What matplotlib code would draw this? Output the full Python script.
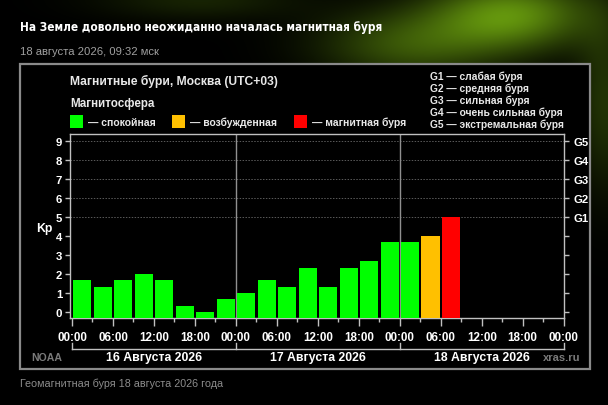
import numpy as np
import matplotlib
matplotlib.use('Agg')
import matplotlib.pyplot as plt
import matplotlib.font_manager as fm
import matplotlib.transforms as mtransforms
from matplotlib.patches import Rectangle

# -------------------------
# DATA
# -------------------------
kp = [1.67, 1.33, 1.67, 2.0, 1.67, 0.33, 0.0, 0.67,
      1.0, 1.67, 1.33, 2.33, 1.33, 2.33, 2.67, 3.67,
      3.67, 4.0, 5.0]
step_hours = 3
days = ['16 Августа 2026', '17 Августа 2026', '18 Августа 2026']
hour_ticks = [0, 6, 12, 18, 24, 30, 36, 42, 48, 54, 60, 66, 72]
hour_labels = ['00:00', '06:00', '12:00', '18:00'] * 3 + ['00:00']
kp_ticks = [0, 1, 2, 3, 4, 5, 6, 7, 8, 9]
g_levels = [5, 6, 7, 8, 9]
g_labels = ['G1', 'G2', 'G3', 'G4', 'G5']
g_desc = ['слабая буря', 'средняя буря', 'сильная буря',
          'очень сильная буря', 'экстремальная буря']
state_names = ['спокойная', 'возбужденная', 'магнитная буря']
state_colors = ['#00ff00', '#ffc000', '#ff0000']

title = 'На Земле довольно неожиданно началась магнитная буря'
subtitle = '18 августа 2026, 09:32 мск'
caption = 'Геомагнитная буря 18 августа 2026 года'

# -------------------------
# FONTS
# -------------------------
names = {f.name for f in fm.fontManager.ttflist}
base = 'Liberation Sans' if 'Liberation Sans' in names else 'DejaVu Sans'
plt.rcParams['font.family'] = [base, 'DejaVu Sans']

# look for a condensed bold face for the headline
title_prop = fm.FontProperties(family=base, weight='bold')
for f in fm.fontManager.ttflist:
    st = str(f.stretch).lower()
    if (('condensed' in st or 'narrow' in f.name.lower()
         or 'condensed' in f.name.lower() or 'narrow' in f.fname.lower()
         or 'condensed' in f.fname.lower())
            and str(f.weight) in ('bold', '700')):
        title_prop = fm.FontProperties(fname=f.fname)
        break

W, H = 608, 406


def fx(x):
    return x / W


def fy(y):
    return 1 - y / H


fig = plt.figure(figsize=(6.08, 4.06), dpi=100, facecolor='black')

# -------------------------
# BACKGROUND (green nebula glow)
# -------------------------
bg = fig.add_axes([0, 0, 1, 1], zorder=-3)
bg.axis('off')
yy, xx = np.mgrid[0:H, 0:W]
glow = (0.60 * np.exp(-(((xx - 510) / 80) ** 2 + ((yy - 15) / 35) ** 2))
        + 0.35 * np.exp(-(((xx - 410) / 90) ** 2 + ((yy - 45) / 35) ** 2))
        + 0.15 * np.exp(-(((xx - 200) / 100) ** 2 + ((yy - 0) / 20) ** 2))
        + 0.22 * np.exp(-(((xx - 605) / 30) ** 2 + ((yy - 100) / 90) ** 2)))
img = np.zeros((H, W, 3))
img[..., 0] = glow * 0.6
img[..., 1] = glow * 0.9
img[..., 2] = glow * 0.08
bg.imshow(np.clip(img, 0, 1), extent=[0, W, H, 0], aspect='auto')
bg.set_xlim(0, W)
bg.set_ylim(H, 0)

# chart frame
fig.add_artist(Rectangle((fx(20), fy(370)), fx(590) - fx(20), fy(65) - fy(370),
                         transform=fig.transFigure, facecolor='black',
                         edgecolor='#8a8a8a', lw=1.6, zorder=-2))

# -------------------------
# TITLE / TEXTS
# -------------------------
t = fig.text(fx(20), fy(27), title, color='white', fontproperties=title_prop,
             fontsize=12, va='center')
fig.canvas.draw()
w = t.get_window_extent().width
t.set_fontsize(min(12 * 360 / w, 13))

fig.text(fx(20), fy(52), subtitle, color='#a0a0a0', fontsize=8.1, va='center')
fig.text(fx(20), fy(384), caption, color='#8c8c8c', fontsize=7.75, va='center')

fig.text(fx(70), fy(81), 'Магнитные бури, Москва (UTC+03)', color='#e8e8e8',
         fontsize=8.7, fontweight='bold', va='center')
fig.text(fx(70), fy(104), 'Магнитосфера', color='#e8e8e8',
         fontsize=8.4, fontweight='bold', va='center')

leg_x = [70, 172, 294]
for x0, name, col in zip(leg_x, state_names, state_colors):
    fig.add_artist(Rectangle((fx(x0), fy(129)), 13 / W, 13 / H,
                             transform=fig.transFigure, facecolor=col,
                             edgecolor='none'))
    fig.text(fx(x0 + 18), fy(123), '— ' + name, color='#e8e8e8',
             fontsize=7.5, fontweight='bold', va='center')

for i, (g, d) in enumerate(zip(g_labels, g_desc)):
    fig.text(fx(430), fy(77 + 12 * i), g + ' — ' + d, color='#e8e8e8',
             fontsize=7.35, fontweight='bold', va='center')

fig.text(fx(31), fy(358), 'NOAA', color='#7a7a7a', fontsize=7.6,
         fontweight='bold', va='center')
fig.text(fx(580), fy(358), 'xras.ru', color='#7a7a7a', fontsize=8,
         fontweight='bold', va='center', ha='right')

# -------------------------
# MAIN AXES
# -------------------------
ax = fig.add_axes([fx(70), fy(319.3), fx(564) - fx(70), (319.3 - 135) / H])
ax.set_facecolor('black')
ymin, ymax = -0.32, 9.38
ax.set_ylim(ymin, ymax)
ax.set_xlim(-0.29, 72.05)

x = np.arange(len(kp)) * step_hours + step_hours / 2
colors = [state_colors[2] if v >= 5 else state_colors[1] if v >= 4
          else state_colors[0] for v in kp]
ax.bar(x, np.array(kp) - ymin, bottom=ymin, width=2.64, color=colors,
       zorder=3)

for g in g_levels:
    ax.axhline(g, color='#5a5a5a', lw=0.7, ls=(0, (1.5, 1.5)), zorder=1)
for d in range(1, len(days)):
    ax.axvline(24 * d, color='#909090', lw=1, zorder=2)

for s in ax.spines.values():
    s.set_color('#c0c0c0')
    s.set_linewidth(1)

ax.set_xticks(hour_ticks)
ax.set_xticklabels(hour_labels)
ax.set_xticks(np.arange(3, 72, 6), minor=True)
ax.tick_params(axis='x', which='major', length=6, width=1, color='#c0c0c0',
               labelcolor='white', labelsize=8.4, pad=3)
ax.tick_params(axis='x', which='minor', length=3, width=1, color='#c0c0c0')
for lb in ax.get_xticklabels():
    lb.set_fontweight('bold')

ax.set_yticks(kp_ticks)
ax.tick_params(axis='y', length=3.5, width=1, color='#c0c0c0',
               labelcolor='white', labelsize=8.2, pad=2)
for lb in ax.get_yticklabels():
    lb.set_fontweight('bold')
ax.set_ylabel('Kp', rotation=0, color='white', fontsize=8.8,
              fontweight='bold', va='center', ha='center')
ax.yaxis.set_label_coords(-0.051, 0.49)

ax2 = ax.twinx()
ax2.set_ylim(ymin, ymax)
ax2.set_yticks(kp_ticks)
ax2.set_yticklabels(['' if k not in g_levels else g_labels[g_levels.index(k)]
                     for k in kp_ticks])
ax2.tick_params(axis='y', length=3.5, width=1, color='#c0c0c0',
                labelcolor='white', labelsize=8.2, pad=3)
for lb in ax2.get_yticklabels():
    lb.set_fontweight('bold')
for s in ax2.spines.values():
    s.set_visible(False)

# day brackets under the time axis
trans = mtransforms.blended_transform_factory(ax.transData, ax.transAxes)
ax.plot([0, 24 * len(days)], [-0.168, -0.168], color='#c0c0c0', lw=1,
        transform=trans, clip_on=False)
for d in range(len(days) + 1):
    ax.plot([24 * d, 24 * d], [-0.168, -0.135], color='#c0c0c0', lw=1,
            transform=trans, clip_on=False)
for d, name in enumerate(days):
    ax.text(24 * d + 12, -0.212, name, transform=trans, ha='center',
            va='center', color='white', fontsize=8.8, fontweight='bold')

plt.savefig('out.png', dpi=100, facecolor='black')
